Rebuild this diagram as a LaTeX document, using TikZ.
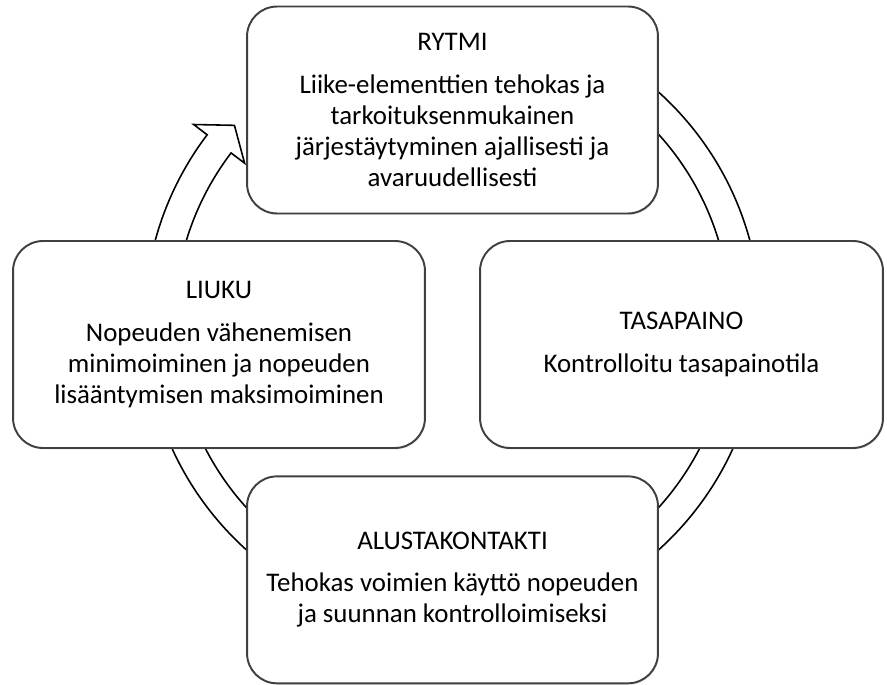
\documentclass[tikz,border=0pt]{standalone}
\usepackage{fontspec}
\setmainfont{Carlito}
\usepackage{xcolor}
\colorlet{BORDERCOLOR}{black!75}
\colorlet{RINGCOLOR}{black}
\usepackage{tikz}
\usetikzlibrary{positioning,calc,shadows}
\tikzset{
  phase-style/.style = {
    rectangle, rounded corners=0.6cm, draw=BORDERCOLOR, line width=1.1pt,
    fill=white, align=center, inner sep=2pt,
    minimum width=#1, minimum height=4.14cm,
    font=\fontsize{15.3}{17.6}\selectfont,
    drop shadow={opacity=0.15, shadow xshift=0.6pt, shadow yshift=-0.9pt}
  },
  phase-style/.default = 8.22cm,
  ring-style/.style = {
    draw=RINGCOLOR, line width=0.9pt, fill=white, line join=miter
  }
}

\begin{document}
\begin{tikzpicture}[x=0.02cm,y=0.02cm]
    \useasboundingbox (0,0) rectangle (887,684);
    \coordinate (centre) at (452.5,363);

    %%% circular arrow
    \path[ring-style] ($(centre)+(450:308)$) arc[start angle=450, end angle=142.8, radius=308]
      -- ($(centre)+(142.8:325)$) -- ($(centre)+(138.1:293)$) -- ($(centre)+(142.8:261)$)
      -- ($(centre)+(142.8:278)$) arc[start angle=142.8, end angle=450, radius=278] -- cycle;

    %%% phases
    \node[phase-style] (rytmi) at (452.5,574) {RYTMI\\[6.5pt]
      Liike-elementtien tehokas ja\\ tarkoituksenmukainen\\
      järjestäytyminen ajallisesti ja\\ avaruudellisesti};
    \node[phase-style,below=5.22cm of rytmi] (alusta) {ALUSTAKONTAKTI\\[6.5pt]
      Tehokas voimien käyttö nopeuden\\ ja suunnan kontrolloimiseksi};
    \node[phase-style=8.24cm] (liuku) at (219,339.5) {LIUKU\\[6.5pt]
      Nopeuden vähenemisen\\ minimoiminen ja nopeuden\\ lisääntymisen maksimoiminen};
    \node[phase-style=8.06cm] (tasapaino) at (681.5,339.5) {TASAPAINO\\[6.5pt]
      Kontrolloitu tasapainotila};
\end{tikzpicture}
\end{document}
